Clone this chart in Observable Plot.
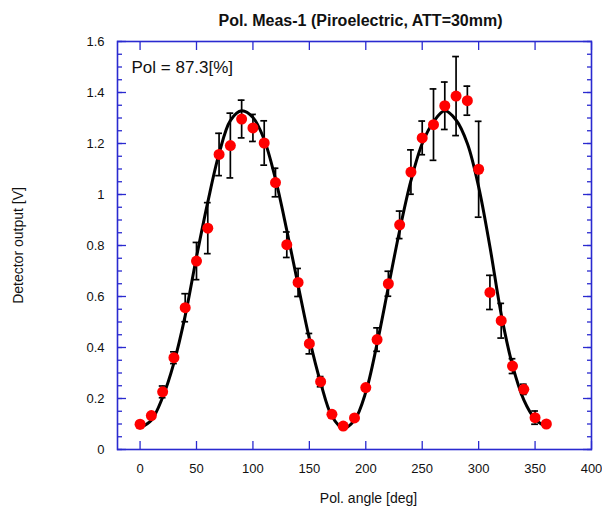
<!DOCTYPE html>
<html>
<head>
<meta charset="utf-8">
<script src="https://cdn.jsdelivr.net/npm/d3@7"></script>
<script src="https://cdn.jsdelivr.net/npm/@observablehq/plot@0.6"></script>
<style>
  html, body { margin: 0; padding: 0; background: #fff; }
</style>
</head>
<body>
<div id="chart"></div>
<script>
// ---- Data ----
const angles = [0, 10, 20, 30, 40, 50, 60, 70, 80, 90, 100, 110, 120, 130, 140, 150, 160, 170, 180,
                190, 200, 210, 220, 230, 240, 250, 260, 270, 280, 290, 300, 310, 320, 330, 340, 350, 360];
const detector = [0.099, 0.133, 0.226, 0.36, 0.556, 0.739, 0.868, 1.157, 1.192, 1.296, 1.261, 1.202, 1.047,
                  0.803, 0.655, 0.415, 0.266, 0.138, 0.092, 0.124, 0.243, 0.431, 0.65, 0.881, 1.088, 1.222,
                  1.274, 1.348, 1.386, 1.368, 1.099, 0.616, 0.505, 0.327, 0.236, 0.125, 0.1];
const errors = [0, 0, 0.023, 0.023, 0.055, 0.073, 0.1, 0.083, 0.127, 0.074, 0.053, 0.087, 0.056,
                0.05, 0.055, 0.04, 0.02, 0, 0, 0, 0, 0.046, 0.049, 0.054, 0.087, 0.066,
                0.14, 0.093, 0.155, 0.057, 0.188, 0.067, 0.068, 0.029, 0.02, 0.026, 0];

// fitted curve, every 10 degrees
const fitAngles = [0, 10, 20, 30, 40, 50, 60, 70, 80, 90, 100, 110, 120, 130, 140, 150, 160, 170, 180,
                   190, 200, 210, 220, 230, 240, 250, 260, 270, 280, 290, 300, 310, 320, 330, 340, 350, 360];
const fitValues = [0.085, 0.115, 0.205, 0.34, 0.525, 0.755, 0.97, 1.16, 1.29, 1.328, 1.302, 1.215, 1.06,
                   0.86, 0.645, 0.435, 0.262, 0.13, 0.083, 0.115, 0.225, 0.415, 0.637, 0.859, 1.054, 1.2,
                   1.285, 1.328, 1.292, 1.2, 1.03, 0.795, 0.53, 0.33, 0.195, 0.12, 0.088];

const xTicks = [0, 50, 100, 150, 200, 250, 300, 350, 400];
const xTickLabels = ["0", "50", "100", "150", "200", "250", "300", "350", "400"];
const yTicks = [0, 0.2, 0.4, 0.6, 0.8, 1.0, 1.2, 1.4, 1.6];
const yTickLabels = ["0", "0.2", "0.4", "0.6", "0.8", "1", "1.2", "1.4", "1.6"];
const yMinorTicks = d3.range(0, 1.6001, 0.05);

const titleText = "Pol. Meas-1 (Piroelectric, ATT=30mm)";
const polText = "Pol = 87.3[%]";
const xLabel = "Pol. angle [deg]";
const yLabel = "Detector output [V]";

// ---- Build ----
const points = angles.map((a, i) => ({angle: a, value: detector[i], err: errors[i]}));
const bars = points.filter(d => d.err > 0);
const fit = fitAngles.map((a, i) => ({angle: a, value: fitValues[i]}));

const blue = "#2a2ad0";
const font = "'Liberation Sans', Arial, sans-serif";

const chart = Plot.plot({
  width: 602,
  height: 507,
  marginLeft: 117,
  marginRight: 11,
  marginTop: 41,
  marginBottom: 58,
  style: {fontFamily: font, fontSize: "13px", color: "#111", background: "#fff", overflow: "visible"},
  x: {domain: [-20, 400]},
  y: {domain: [0, 1.6]},
  marks: [
    // tick marks (inward)
    Plot.axisX(xTicks, {anchor: "bottom", tickSize: -8, stroke: blue, strokeWidth: 1.3, fill: "none", label: null}),
    Plot.axisX(xTicks, {anchor: "top", tickSize: -8, stroke: blue, strokeWidth: 1.3, fill: "none", label: null}),
    Plot.axisY(yMinorTicks, {anchor: "left", tickSize: -5, stroke: blue, strokeWidth: 1.3, fill: "none", label: null}),
    Plot.axisY(yMinorTicks, {anchor: "right", tickSize: -5, stroke: blue, strokeWidth: 1.3, fill: "none", label: null}),
    Plot.axisY(yTicks, {anchor: "left", tickSize: -9, stroke: blue, strokeWidth: 1.3, fill: "none", label: null}),
    Plot.axisY(yTicks, {anchor: "right", tickSize: -9, stroke: blue, strokeWidth: 1.3, fill: "none", label: null}),
    // tick labels
    Plot.axisX(xTicks, {anchor: "bottom", tickSize: 0, tickPadding: 14, fontSize: 13, fill: "#111",
                        tickFormat: (d, i) => xTickLabels[i], label: null}),
    Plot.axisY(yTicks, {anchor: "left", tickSize: 0, tickPadding: 13, fontSize: 13, fill: "#111",
                        tickFormat: (d, i) => yTickLabels[i], label: null}),
    Plot.frame({stroke: blue, strokeWidth: 1.6}),
    // data
    Plot.line(fit, {x: "angle", y: "value", stroke: "black", strokeWidth: 3, curve: "catmull-rom"}),
    Plot.ruleX(bars, {x: "angle", y1: d => d.value - d.err, y2: d => d.value + d.err, stroke: "black", strokeWidth: 1.7}),
    Plot.ruleY(bars, {y: d => d.value + d.err, x1: d => d.angle - 3, x2: d => d.angle + 3, stroke: "black", strokeWidth: 1.7}),
    Plot.ruleY(bars, {y: d => d.value - d.err, x1: d => d.angle - 3, x2: d => d.angle + 3, stroke: "black", strokeWidth: 1.7}),
    Plot.dot(points, {x: "angle", y: "value", r: 5.5, fill: "#ff0000", stroke: null}),
    // texts
    Plot.text([polText], {frameAnchor: "top-left", dx: 14, dy: 26, textAnchor: "start", lineAnchor: "middle",
                          fontSize: 17, fill: "#111"}),
    Plot.text([titleText], {frameAnchor: "top", dx: 6, dy: -21, lineAnchor: "middle", fontSize: 16,
                            fontWeight: "bold", fill: "#111"}),
    Plot.text([xLabel], {frameAnchor: "bottom", dx: 14, dy: 49, lineAnchor: "middle", fontSize: 14, fill: "#111"}),
    Plot.text([yLabel], {frameAnchor: "left", dx: -99, rotate: -90, textAnchor: "middle", lineAnchor: "middle",
                         fontSize: 14, fill: "#111"})
  ]
});
document.getElementById("chart").appendChild(chart);
</script>
</body>
</html>
